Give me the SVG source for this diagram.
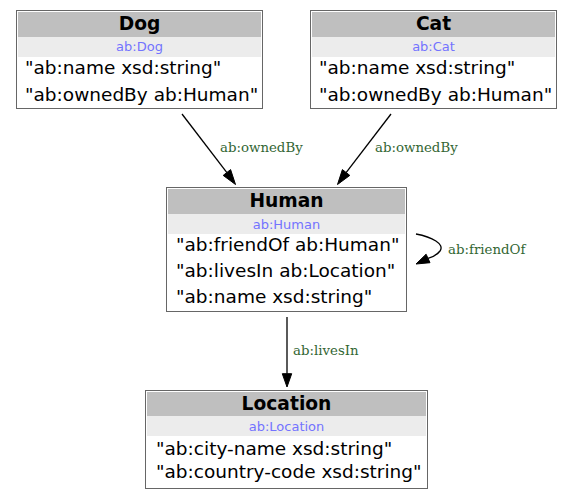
<svg xmlns="http://www.w3.org/2000/svg" width="573" height="500" viewBox="0 0 573 500">
<style>
.box{fill:#ffffff;stroke:#666666;stroke-width:1}
.hd{fill:#bfbfbf}
.sb{fill:#ececec}
.title{font-family:"DejaVu Sans",sans-serif;font-weight:bold;font-size:18.67px;fill:#000;text-anchor:middle}
.sub{font-family:"DejaVu Sans",sans-serif;font-size:13px;fill:#7373ff;text-anchor:middle}
.row{font-family:"DejaVu Sans",sans-serif;font-size:18.5px;fill:#000}
.edge{fill:none;stroke:#000;stroke-width:1.3}
.ah{fill:#000;stroke:#000;stroke-width:1}
.lbl{font-family:"DejaVu Serif",serif;font-size:13.33px;fill:#336633}
</style>
<rect width="573" height="500" fill="#ffffff"/>
<g id="connectors">
<path class="edge" d="M182,114 L226.9,172.6"/>
<polygon class="ah" points="235.5,184.5 223.2,175.4 230.6,169.6"/>
<text class="lbl" x="220" y="151.5">ab:ownedBy</text>
<path class="edge" d="M391,114 L346.1,172.6"/>
<polygon class="ah" points="337.5,184.5 342.4,169.6 349.8,175.4"/>
<text class="lbl" x="375" y="151.5">ab:ownedBy</text>
<path class="edge" d="M287,317 L287,373.7"/>
<polygon class="ah" points="287,387 282.3,373.7 291.7,373.7"/>
<text class="lbl" x="293" y="355">ab:livesIn</text>
<path class="edge" d="M416,234 C432,237 445,244 440,251 C437,255 433,257 428,258.4"/>
<polygon class="ah" points="416,264 426.1,254.2 430,262.7"/>
<text class="lbl" x="448" y="253.5">ab:friendOf</text>
</g>
<g id="node-dog">
<rect class="box" x="16.5" y="10.5" width="246" height="98"/>
<rect class="hd" x="18" y="12" width="243" height="25"/>
<rect class="sb" x="18" y="37" width="243" height="20"/>
<text class="title" x="139.5" y="30">Dog</text>
<text class="sub" x="139.5" y="51">ab:Dog</text>
<text class="row" x="25" y="74">"ab:name xsd:string"</text>
<text class="row" x="25" y="101">"ab:ownedBy ab:Human"</text>
</g>
<g id="node-cat">
<rect class="box" x="310.5" y="10.5" width="246" height="98"/>
<rect class="hd" x="312" y="12" width="243" height="25"/>
<rect class="sb" x="312" y="37" width="243" height="20"/>
<text class="title" x="433.5" y="30">Cat</text>
<text class="sub" x="433.5" y="51">ab:Cat</text>
<text class="row" x="319" y="74">"ab:name xsd:string"</text>
<text class="row" x="319" y="101">"ab:ownedBy ab:Human"</text>
</g>
<g id="node-human">
<rect class="box" x="166.5" y="187.5" width="240" height="124"/>
<rect class="hd" x="168" y="189" width="237" height="25"/>
<rect class="sb" x="168" y="214" width="237" height="20"/>
<text class="title" x="286.5" y="207">Human</text>
<text class="sub" x="286.5" y="228.5">ab:Human</text>
<text class="row" x="176" y="251">"ab:friendOf ab:Human"</text>
<text class="row" x="176" y="277">"ab:livesIn ab:Location"</text>
<text class="row" x="176" y="303">"ab:name xsd:string"</text>
</g>
<g id="node-location">
<rect class="box" x="145.5" y="390.5" width="282" height="98"/>
<rect class="hd" x="147" y="392" width="279" height="24"/>
<rect class="sb" x="147" y="416" width="279" height="20"/>
<text class="title" x="286.5" y="410">Location</text>
<text class="sub" x="286.5" y="430.5">ab:Location</text>
<text class="row" x="156" y="455">"ab:city-name xsd:string"</text>
<text class="row" x="156" y="478">"ab:country-code xsd:string"</text>
</g>
</svg>
